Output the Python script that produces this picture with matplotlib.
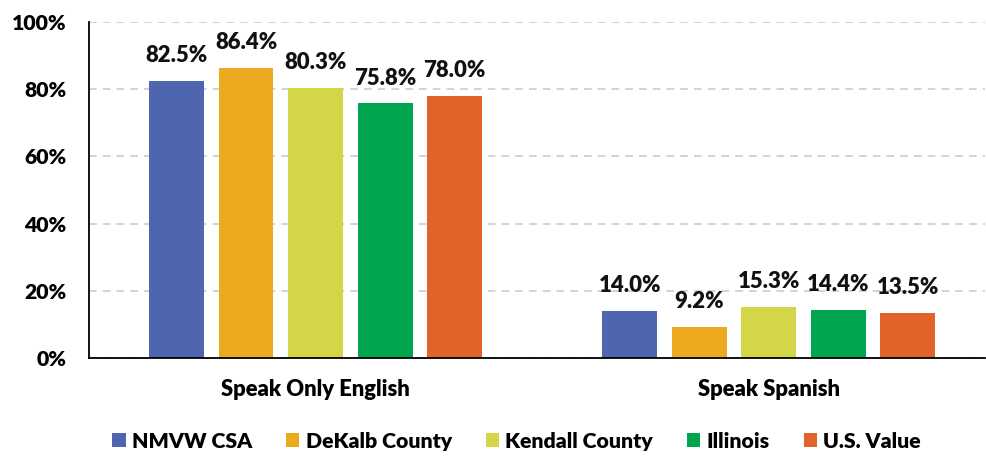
import matplotlib
matplotlib.use("Agg")
import matplotlib.pyplot as plt
from matplotlib.textpath import TextPath
from matplotlib.font_manager import FontProperties
import numpy as np

categories = ["Speak Only English", "Speak Spanish"]
series_names = ["NMVW CSA", "DeKalb County", "Kendall County", "Illinois", "U.S. Value"]
values = {
    "NMVW CSA": [82.5, 14.0],
    "DeKalb County": [86.4, 9.2],
    "Kendall County": [80.3, 15.3],
    "Illinois": [75.8, 14.4],
    "U.S. Value": [78.0, 13.5],
}
colors = ["#4F65B0", "#EBAA1F", "#D3D646", "#00A64F", "#E2632A"]
yticks = [0, 20, 40, 60, 80, 100]

FAMILY = ['Lato', 'DejaVu Sans']
WEIGHT = 'heavy'
plt.rcParams['font.family'] = FAMILY
plt.rcParams['font.weight'] = WEIGHT


def fit_size(text, target_px, dpi=100):
    fp = FontProperties(family=FAMILY, weight=WEIGHT, size=10)
    w = TextPath((0, 0), text, prop=fp).get_extents().width
    w_px = w * dpi / 72.0
    return 10 * target_px / w_px


val_fs = fit_size("82.5%", 61)
tick_fs = fit_size("100%", 53)
cat_fs = fit_size("Speak Only English", 188)
leg_fs = fit_size("DeKalb County", 145)

fig = plt.figure(figsize=(9.86, 4.57), dpi=100)
ax = fig.add_axes([0.0903, 0.2166, 0.909, 0.7353])

x = np.arange(len(categories))
pitch = 0.1535
width = 0.121
for i, name in enumerate(series_names):
    pos = x + (i - 2) * pitch
    bars = ax.bar(pos, values[name], width, color=colors[i], label=name, zorder=3)
    for b, v in zip(bars, values[name]):
        ax.annotate(f"{v:.1f}%", (b.get_x() + b.get_width() / 2, v), xytext=(0, 13.5),
                    textcoords="offset points", ha="center", va="baseline",
                    fontsize=val_fs, fontweight=WEIGHT, color="#111111")

ax.set_xlim(-0.5, 1.478)
ax.set_ylim(0, 100)
ax.set_yticks(yticks)
ax.set_yticklabels([f"{t}%" for t in yticks], fontsize=tick_fs, fontweight=WEIGHT)
ax.set_xticks(x)
ax.set_xticklabels(categories, fontsize=cat_fs, fontweight=WEIGHT)
ax.tick_params(axis="y", length=0, pad=16)
ax.tick_params(axis="x", length=0, pad=15)
ax.yaxis.grid(True, linestyle=(0, (5, 4)), color="#c8c8c8", linewidth=1.1, zorder=0)
for s in ["top", "right"]:
    ax.spines[s].set_visible(False)
ax.spines["left"].set_color("black")
ax.spines["bottom"].set_color("black")
ax.spines["left"].set_linewidth(1.3)
ax.spines["bottom"].set_linewidth(1.3)
ax.spines["left"].set_zorder(4)
ax.spines["bottom"].set_zorder(4)

leg = fig.legend(loc="center", bbox_to_anchor=(0.524, 0.035), ncol=5, frameon=False,
                 fontsize=leg_fs, handlelength=0.62, handleheight=0.62, handletextpad=0.3,
                 columnspacing=1.6, borderpad=0)
fig.savefig("out.png", dpi=100)
